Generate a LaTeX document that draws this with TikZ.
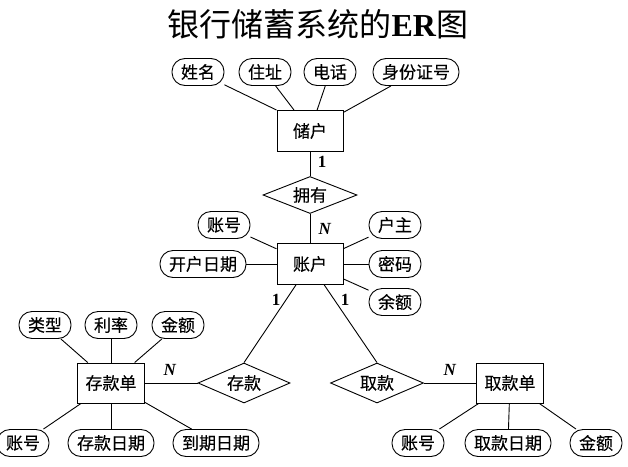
\documentclass[tikz,border=0pt]{standalone}
\usepackage{fontspec}
\setmainfont{Liberation Serif}
\newfontfamily\cjk[FakeBold=0.3]{Noto Sans CJK SC}
\newfontfamily\cjktitle{Noto Sans CJK SC}
\usetikzlibrary{shapes.geometric}
\tikzset{
  base/.style={font=\cjk\fontsize{17}{19}\selectfont, inner sep=0pt, line width=0.9pt},
  attr/.style={base, draw, rounded corners=13pt, minimum height=27pt, inner xsep=9pt},
  ent/.style={base, draw, minimum width=66pt, minimum height=41pt},
  rel/.style={base, draw, diamond, aspect=2.4, minimum width=94pt, minimum height=39pt},
  card/.style={font=\fontsize{17}{19}\selectfont\bfseries},
  lnk/.style={line width=0.9pt}
}
\begin{document}
\begin{tikzpicture}[x=1pt,y=-1pt]
\useasboundingbox (0,0) rectangle (628,466);
\node[font=\fontsize{32}{36}\selectfont] (title) at (318,24) {{\cjktitle 银行储蓄系统的}\textbf{ER}{\cjktitle 图}};
% 储户
\node[ent] (ch) at (310,131) {储户};
\node[attr] (xm) at (198,72) {姓名};
\node[attr] (zz) at (265,72) {住址};
\node[attr] (dh) at (330,72) {电话};
\node[attr] (sfz) at (416,72) {身份证号};
\draw[lnk] (xm) -- (ch.north west);
\draw[lnk] (zz) -- (ch);
\draw[lnk] (dh) -- (ch);
\draw[lnk] (sfz) -- (ch);
% 拥有
\node[rel, minimum height=37pt] (yy) at (310,195) {拥有};
\draw[lnk] (ch) -- (yy.north);
\node[card] (c1) at (322,162) {1};
% 账户
\node[ent] (zh) at (310,264) {账户};
\draw[lnk] (yy.south) -- (zh);
\node[card] (c2) at (325,229) {\textit{N}};
\node[attr] (zhh) at (224,225) {账号};
\node[attr] (khrq) at (203,264) {开户日期};
\node[attr] (hz) at (395,225) {户主};
\node[attr] (mm) at (395,264) {密码};
\node[attr] (ye) at (395,302) {余额};
\draw[lnk] (zhh) -- (zh);
\draw[lnk] (khrq) -- (zh);
\draw[lnk] (hz) -- (zh);
\draw[lnk] (mm) -- (zh);
\draw[lnk] (ye) -- (zh);
% 存款 / 取款
\node[rel, minimum height=40pt, minimum width=92pt] (ck) at (244,383) {存款};
\node[rel, minimum height=40pt, minimum width=93pt] (qk) at (377,383) {取款};
\draw[lnk] (zh) -- (ck.north);
\draw[lnk] (zh) -- (qk.north);
\node[card] (c3) at (276,300) {1};
\node[card] (c4) at (345,300) {1};
% 存款单
\node[ent, minimum width=67pt, minimum height=40pt] (ckd) at (111,383) {存款单};
\draw[lnk] (ckd) -- (ck);
\node[card] (c5) at (170,370) {\textit{N}};
\node[attr] (lx) at (45,325) {类型};
\node[attr] (ll) at (111,325) {利率};
\node[attr] (je1) at (178,325) {金额};
\node[attr] (zhh2) at (23,443) {账号};
\node[attr] (ckrq) at (111,443) {存款日期};
\node[attr] (dqrq) at (216,443) {到期日期};
\draw[lnk] (lx) -- (ckd);
\draw[lnk] (ll) -- (ckd);
\draw[lnk] (je1) -- (ckd);
\draw[lnk] (zhh2) -- (ckd);
\draw[lnk] (ckrq) -- (ckd);
\draw[lnk] (dqrq) -- (ckd);
% 取款单
\node[ent, minimum width=67pt, minimum height=40pt] (qkd) at (510,383) {取款单};
\draw[lnk] (qk) -- (qkd);
\node[card] (c6) at (450,370) {\textit{N}};
\node[attr] (zhh3) at (418,443) {账号};
\node[attr] (qkrq) at (508,443) {取款日期};
\node[attr] (je2) at (596,443) {金额};
\draw[lnk] (zhh3) -- (qkd);
\draw[lnk] (qkrq) -- (qkd);
\draw[lnk] (je2) -- (qkd);
\end{tikzpicture}
\end{document}
